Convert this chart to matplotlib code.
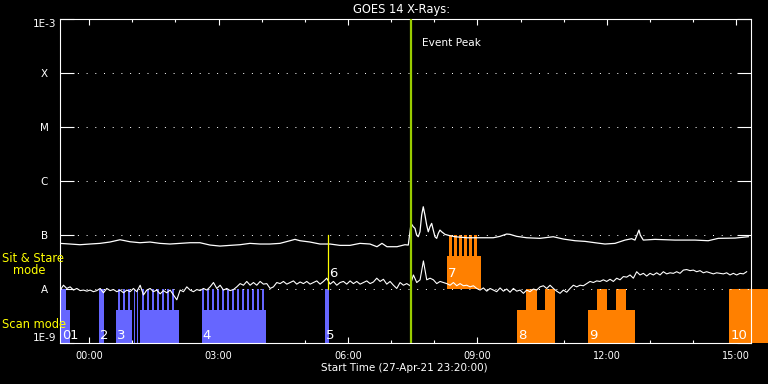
"""GOES 14 X-ray light curve with scan / sit-and-stare observation bars (IDL style)."""
import numpy as np
import matplotlib
matplotlib.use("Agg")
import matplotlib.pyplot as plt
from matplotlib.ticker import FixedLocator, MultipleLocator, NullLocator

# time axis: hours from 28-Apr-21 00:00 (start time 27-Apr-21 23:20)
t_start, t_end = -2 / 3, 15 + 1 / 3

# GOES long channel, log10 flux (W/m^2)
long_t = [-0.674, -0.443, -0.211, 0.021, 0.253, 0.484, 0.716, 0.832, 0.948, 1.180,
          1.411, 1.643, 1.875, 2.107, 2.338, 2.570, 2.802, 3.034, 3.265, 3.497,
          3.729, 3.961, 4.192, 4.424, 4.656, 4.772, 4.888, 5.119, 5.351, 5.583,
          5.815, 6.046, 6.278, 6.510, 6.672, 6.788, 6.904, 7.136, 7.321, 7.398,
          7.462, 7.513, 7.553, 7.592, 7.629, 7.669, 7.708, 7.745, 7.784, 7.824,
          7.861, 7.900, 7.940, 7.977, 8.016, 8.056, 8.093, 8.132, 8.171, 8.248,
          8.364, 8.480, 8.751, 9.059, 9.367, 9.523, 9.678, 9.754, 9.910, 10.141,
          10.450, 10.758, 10.990, 11.261, 11.493, 11.724, 11.956, 12.188, 12.420, 12.575,
          12.651, 12.714, 12.744, 12.774, 12.844, 13.115, 13.578, 14.042, 14.350, 14.582,
          14.969, 15.277]
long_log10 = [-7.155, -7.167, -7.180, -7.167, -7.155, -7.130, -7.088, -7.106, -7.125, -7.143,
              -7.130, -7.155, -7.167, -7.155, -7.143, -7.143, -7.186, -7.205, -7.192, -7.180,
              -7.155, -7.167, -7.167, -7.155, -7.106, -7.081, -7.106, -7.130, -7.167, -7.167,
              -7.192, -7.192, -7.155, -7.167, -7.217, -7.155, -7.217, -7.217, -7.180, -7.186,
              -6.785, -6.847, -6.877, -7.001, -7.032, -6.940, -6.631, -6.477, -6.631, -6.816,
              -6.940, -6.847, -6.785, -6.909, -7.032, -7.062, -6.970, -6.909, -6.940, -6.988,
              -7.014, -7.032, -7.051, -7.051, -7.051, -7.025, -6.982, -6.988, -7.025, -7.051,
              -7.062, -7.032, -7.075, -7.106, -7.118, -7.143, -7.167, -7.155, -7.094, -7.069,
              -7.094, -6.970, -6.909, -7.001, -7.094, -7.081, -7.094, -7.094, -7.106, -7.062,
              -7.057, -7.032]

# GOES short channel, log10 flux (W/m^2), evenly sampled between these times
short_t0, short_t1 = -0.67, 15.24
short_log10 = [
    -8.02, -7.93, -7.99, -7.96, -8.02, -7.99, -8.03, -8.02, -8.04, -8.02,
    -8.05, -8.03, -7.99, -8.07, -7.99, -8.03, -8.01, -8.05, -8.02, -8.07,
    -8.02, -8.05, -7.99, -8.05, -7.93, -8.11, -8.02, -7.99, -8.05, -8.02,
    -8.09, -8.03, -8.07, -8.02, -8.11, -8.20, -8.02, -8.05, -7.96, -8.02,
    -8.05, -8.01, -8.03, -7.99, -8.02, -7.96, -7.88, -7.99, -7.93, -8.02,
    -7.99, -8.03, -8.01,
    -7.96, -7.90, -7.93, -7.86, -7.93, -7.88, -7.93, -7.86, -7.91, -7.90,
    -7.99, -7.96, -7.88, -7.90, -7.86, -7.91, -7.88, -7.85, -7.91, -7.87,
    -7.90, -7.86, -7.91, -7.88, -7.85, -7.91, -7.86, -7.80, -7.91, -7.86,
    -7.93, -7.88, -7.86, -7.91, -7.85, -7.90, -7.86, -7.91, -7.88, -7.85,
    -7.90, -7.87, -7.80, -7.86, -7.82, -7.91, -7.86, -7.93, -7.99, -7.88,
    -7.93, -7.90, -7.94, -7.74, -7.88, -7.83, -7.48, -7.83, -7.80, -7.83,
    -7.90, -7.86, -7.88, -7.90, -7.93, -7.88, -7.94, -7.90, -7.94, -7.93,
    -7.96, -7.94, -7.99, -8.02, -7.98, -8.04, -7.99, -8.02, -8.05, -7.98,
    -8.04, -8.00, -8.06, -7.99, -8.04, -8.02, -8.08, -8.02, -8.05, -8.00,
    -8.02, -7.96, -7.94, -7.99, -7.93, -7.99, -8.04, -8.08, -8.02, -8.06,
    -7.99, -7.93,
    -7.96, -7.93, -7.94, -7.90, -7.86, -7.88, -7.85, -7.86, -7.83, -7.86,
    -7.82, -7.86, -7.80, -7.83, -7.77, -7.78, -7.74, -7.80, -7.68, -7.74,
    -7.71, -7.76, -7.71, -7.74, -7.70, -7.74, -7.68, -7.72, -7.70, -7.71,
    -7.68, -7.71, -7.65, -7.64, -7.66, -7.65, -7.68, -7.66, -7.70, -7.68,
    -7.70, -7.72, -7.70, -7.71, -7.72, -7.70, -7.74, -7.71, -7.74, -7.71,
    -7.72, -7.68,
]

event_peak = 7.46
stare_mark = 5.543  # obs 6, a single sit & stare pointing

# observation bars: (start, end) in hours
blue_scan_full = [(-0.651, -0.535), (0.229, 0.345),
                  (0.672, 0.727), (0.788, 0.843), (0.903, 0.958),
                  (1.038, 1.066), (1.114, 1.142),
                  (1.228, 1.283), (1.344, 1.399), (1.460, 1.515), (1.576, 1.631),
                  (1.691, 1.746), (1.807, 1.862), (1.923, 1.978),
                  (2.618, 2.673), (2.734, 2.789), (2.850, 2.905), (2.966, 3.021),
                  (3.082, 3.137), (3.198, 3.253), (3.314, 3.369), (3.430, 3.485),
                  (3.545, 3.600), (3.661, 3.716), (3.777, 3.832), (3.893, 3.948),
                  (4.009, 4.064), (5.460, 5.553)]
blue_scan_low = [(-0.651, -0.443), (0.623, 0.987), (1.180, 2.076), (2.610, 4.100)]
orange_scan_full = [(10.118, 10.380), (10.565, 10.797), (11.770, 12.002), (12.210, 12.436)]
orange_scan_low = [(9.910, 10.797), (11.555, 12.651)]
orange_scan_open = [(14.837, 16.0)]  # runs past the end of the plot
orange_stare_full = [(8.341, 8.421), (8.457, 8.537), (8.573, 8.653),
                     (8.689, 8.769), (8.805, 8.885), (8.921, 9.001)]
orange_stare_low = [(8.294, 9.082)]

obs_labels = ["0", "1", "2", "3", "4", "5", "6", "7", "8", "9", "10"]
obs_start = [-0.651, -0.535, 0.229, 0.623, 2.610, 5.460, 5.543, 8.294, 9.910, 11.555, 14.837]
obs_row = ["scan"] * 6 + ["stare", "stare"] + ["scan"] * 3

level_ticks = [1e-9, 1e-8, 1e-7, 1e-6, 1e-5, 1e-4, 1e-3]
level_labels = ["1E-9", "A", "B", "C", "M", "X", "1E-3"]
hour_ticks = [0, 3, 6, 9, 12, 15]
hour_labels = ["00:00", "03:00", "06:00", "09:00", "12:00", "15:00"]

ROWS = {"scan": (1e-9, 1e-8), "stare": (1e-8, 1e-7)}
BLUE, ORANGE = "#6666ff", "#ff8000"
W, H = 768, 384

fig = plt.figure(figsize=(W / 100, H / 100), dpi=100, facecolor="black")
ax = fig.add_axes([60.3 / W, 41 / H, 690.4 / W, 324 / H], facecolor="black")
ax.set_yscale("log")
ax.set_xlim(t_start, t_end)
ax.set_ylim(1e-9, 1e-3)


def draw_bars(spans, row, frac, color, **kw):
    lo, hi = ROWS[row]
    top = lo * (hi / lo) ** frac
    starts = [s for s, e in spans]
    widths = [e - s for s, e in spans]
    ax.bar(starts, [top - lo] * len(spans), width=widths, bottom=lo, align="edge",
           color=color, lw=0, zorder=2, antialiased=False, **kw)


draw_bars(blue_scan_low, "scan", 0.61, BLUE)
draw_bars(blue_scan_full, "scan", 1.0, BLUE)
draw_bars(orange_scan_low, "scan", 0.61, ORANGE)
draw_bars(orange_scan_full, "scan", 1.0, ORANGE)
draw_bars(orange_scan_open, "scan", 1.0, ORANGE, clip_on=False)
draw_bars(orange_stare_low, "stare", 0.61, ORANGE)
draw_bars(orange_stare_full, "stare", 1.0, ORANGE)

# light curves
short_t = np.linspace(short_t0, short_t1, len(short_log10))
ax.plot(short_t, 10 ** np.asarray(short_log10), color="white", lw=0.8, zorder=3)
ax.plot(long_t, 10 ** np.asarray(long_log10), color="white", lw=0.9, zorder=3)

# dotted class levels
for lev in level_ticks[1:-1]:
    ax.axhline(lev, color="white", lw=0.72, ls=(0, (1, 7.7)), zorder=4)

ax.axvline(event_peak, color="#99cc00", lw=1.6, zorder=5)
ax.plot([stare_mark, stare_mark], [1e-8, 1e-7], color="yellow", lw=0.9, zorder=5)
ax.annotate("Event Peak", xy=(event_peak, 1e-3), xytext=(7.7, -17.3),
            textcoords="offset points", ha="left", va="center", color="white",
            fontsize=7.6, zorder=6)

prev_t = None
for lbl, t0, row in zip(obs_labels, obs_start, obs_row):
    dy = 2.9 if row == "scan" else 8.6
    # labels of back-to-back observations sit side by side
    dx = 2.8 if (prev_t is not None and t0 - prev_t < 0.15 and row == "scan") else 0.7
    prev_t = t0
    ax.annotate(lbl, xy=(t0, ROWS[row][0]), xytext=(dx, dy), textcoords="offset points",
                ha="left", va="baseline", color="white", fontsize=9.5, zorder=6)

# axes styling
for sp in ax.spines.values():
    sp.set_color("white")
    sp.set_linewidth(0.8)
ax.yaxis.set_major_locator(FixedLocator(level_ticks))
ax.yaxis.set_minor_locator(NullLocator())
ax.set_yticklabels(level_labels)
ax.xaxis.set_major_locator(FixedLocator(hour_ticks))
ax.xaxis.set_minor_locator(MultipleLocator(1))
ax.set_xticklabels(hour_labels)
ax.tick_params(which="both", direction="in", colors="white", top=True, right=True, width=0.8)
ax.tick_params(axis="y", which="major", length=10, pad=11.5, labelsize=7.5)
ax.tick_params(axis="x", which="major", length=4.3, pad=5.8, labelsize=7)
ax.tick_params(axis="x", which="minor", length=2.5)
for lab in ax.get_yticklabels():
    lab.set_ha("center")
ylabs = ax.get_yticklabels()
ylabs[0].set_va("bottom")
ylabs[-1].set_va("top")

fig.text(401.7 / W, 1 - 9 / H, "GOES 14 X-Rays:", ha="center", va="center",
         color="white", fontsize=8.3)
fig.text(404 / W, 1 - 368 / H, "Start Time (27-Apr-21 23:20:00)", ha="center",
         va="center", color="white", fontsize=7.5)
fig.text(2 / W, 1 - 259 / H, "Sit & Stare", ha="left", va="center", color="yellow", fontsize=8.3)
fig.text(13 / W, 1 - 271 / H, "mode", ha="left", va="center", color="yellow", fontsize=8.3)
fig.text(2 / W, 1 - 324 / H, "Scan mode", ha="left", va="center", color="yellow", fontsize=8.3)

fig.savefig("out.png", dpi=100, facecolor="black")
